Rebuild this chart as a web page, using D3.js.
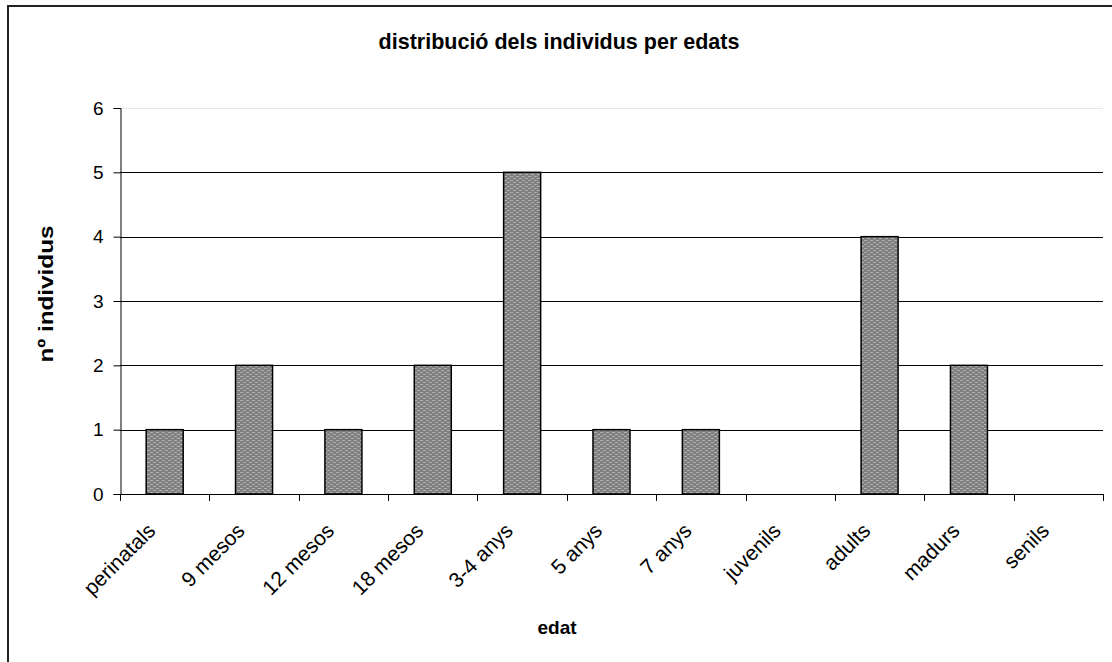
<!DOCTYPE html>
<html>
<head>
<meta charset="utf-8">
<script src="https://cdn.jsdelivr.net/npm/d3@7"></script>
<style>
html,body{margin:0;padding:0;background:#fff;}
svg{display:block;font-family:"Liberation Sans",Arial,sans-serif;}
</style>
</head>
<body>
<svg id="chart" width="1112" height="662"></svg>
<script>
const categories = ["perinatals","9 mesos","12 mesos","18 mesos","3-4 anys","5 anys","7 anys","juvenils","adults","madurs","senils"];
const values = [1,2,1,2,5,1,1,0,4,2,0];
const yTicks = [0,1,2,3,4,5,6];
const title = "distribució dels individus per edats";
const xTitle = "edat";
const yTitle = "nº individus";

(function(){
const svg = d3.select("#chart");
const defs = svg.append("defs");
const pat = defs.append("pattern").attr("id","tex").attr("patternUnits","userSpaceOnUse")
  .attr("width",6).attr("height",4);
pat.append("rect").attr("width",6).attr("height",4).attr("fill","#808080");
pat.append("rect").attr("x",0).attr("y",0).attr("width",3).attr("height",1).attr("fill","#b0b0b0");
pat.append("rect").attr("x",3).attr("y",2).attr("width",3).attr("height",1).attr("fill","#b0b0b0");

// outer border
svg.append("rect").attr("x",8).attr("y",6).attr("width",1200).attr("height",800)
  .attr("fill","none").attr("stroke","#222").attr("stroke-width",2);

const mLeft = 120, mRight = 1103, mTop = 108, mBottom = 494;
const x = d3.scaleBand().domain(categories).range([mLeft,mRight]).paddingInner(0).paddingOuter(0);
const y = d3.scaleLinear().domain([0,6]).range([mBottom,mTop]);

// gridlines
svg.append("g").selectAll("line").data(yTicks.filter(d=>d>0)).join("line")
  .attr("x1",mLeft).attr("x2",mRight)
  .attr("y1",d=>Math.round(y(d))+0.5).attr("y2",d=>Math.round(y(d))+0.5)
  .attr("stroke",d=>d===6?"#e6e6e6":"#000").attr("stroke-width",1);

// bars
const bw = 37;
svg.append("g").selectAll("rect").data(values.map((v,i)=>({c:categories[i],v})).filter(d=>d.v>0))
  .join("rect")
  .attr("x",d=>x(d.c)+x.bandwidth()/2-bw/2)
  .attr("y",d=>y(d.v))
  .attr("width",bw)
  .attr("height",d=>y(0)-y(d.v))
  .attr("fill","url(#tex)")
  .attr("stroke","#000").attr("stroke-width",1.5);

// y axis
const yAxis = d3.axisLeft(y).tickValues(yTicks).tickSize(7).tickPadding(10).tickFormat(d3.format("d"));
const gy = svg.append("g").attr("transform",`translate(${mLeft+0.5},0)`).call(yAxis);
gy.select(".domain").attr("stroke","#000");
gy.selectAll(".tick line").attr("stroke","#000");
gy.selectAll("text").attr("font-size",19).attr("fill","#000").attr("font-family","Liberation Sans, Arial, sans-serif");

// x axis
const xTickPos = d3.range(categories.length+1).map(i=>mLeft + i*x.bandwidth());
svg.append("line").attr("x1",mLeft).attr("x2",mRight).attr("y1",mBottom+0.5).attr("y2",mBottom+0.5).attr("stroke","#000");
svg.append("g").selectAll("line").data(xTickPos).join("line")
  .attr("x1",d=>Math.round(d)+0.5).attr("x2",d=>Math.round(d)+0.5)
  .attr("y1",mBottom).attr("y2",mBottom+7).attr("stroke","#000");

svg.append("g").selectAll("text").data(categories).join("text")
  .attr("transform",d=>`translate(${x(d)+x.bandwidth()/2-8},${mBottom+38}) rotate(-45)`)
  .attr("text-anchor","end")
  .attr("font-size",21)
  .attr("fill","#000")
  .text(d=>d);

// titles
svg.append("text").attr("x",559).attr("y",49).attr("text-anchor","middle")
  .attr("font-size",21.5).attr("font-weight","bold").text(title);
svg.append("text").attr("x",557).attr("y",634).attr("text-anchor","middle")
  .attr("font-size",19).attr("font-weight","bold").text(xTitle);
svg.append("text").attr("transform","translate(53,294) rotate(-90)").attr("text-anchor","middle")
  .attr("font-size",20).attr("font-weight","bold")
  .attr("textLength",137).attr("lengthAdjust","spacingAndGlyphs").text(yTitle);
})();
</script>
</body>
</html>
